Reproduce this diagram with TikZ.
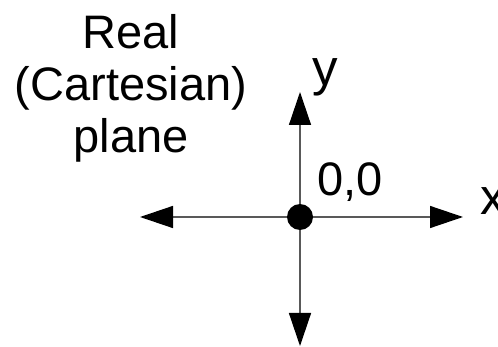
\documentclass[tikz,border=0pt]{standalone}
\usepackage{fontspec}
\setmainfont{Liberation Sans}
\usepackage{tikz}
\usetikzlibrary{arrows.meta, positioning}

\begin{document}
\begin{tikzpicture}[
    x=1pt, y=-1pt,
    dot/.style={circle, fill=black, inner sep=0pt, minimum size=26pt},
    axis/.style={-{Triangle[length=33pt, width=22pt, black]}, line width=1.4pt, black!65},
    lbl/.style={inner sep=0pt, font=\fontsize{47}{52}\selectfont},
    axlbl/.style={inner sep=0pt, font=\fontsize{51}{56}\selectfont},
]
\useasboundingbox (0,0) rectangle (498,347);

% Axes
\node[dot] (o) at (300,217) {};
\coordinate (xl) at (140,217);
\coordinate (xr) at (463,217);
\coordinate (yt) at (300,92);
\coordinate (yb) at (300,346);
\draw[axis] (o) -- (xl);
\draw[axis] (o) -- (xr);
\draw[axis] (o) -- (yt);
\draw[axis] (o) -- (yb);

% Labels
\node[lbl, align=center, anchor=north] (title) at (131,14) {Real\\(Cartesian)\\plane};
\node[axlbl, anchor=base west] (ylbl) at (312,86) {y};
\node[lbl, anchor=base west] (orig) at (317,196) {0,0};
\node[axlbl, anchor=base west] (xlbl) at (480,215) {x};
\end{tikzpicture}
\end{document}
